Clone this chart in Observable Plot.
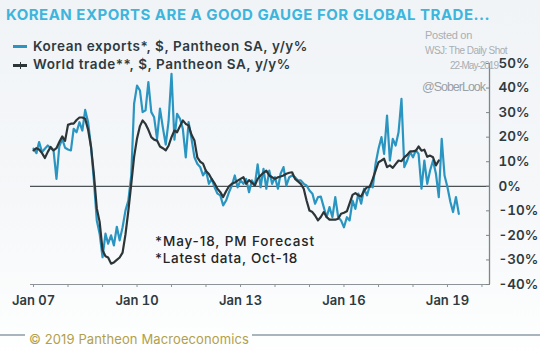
<!DOCTYPE html>
<html><head><meta charset="utf-8">
<script src="https://cdn.jsdelivr.net/npm/d3@7"></script>
<script src="https://cdn.jsdelivr.net/npm/@observablehq/plot@0.6"></script>
<style>
body{margin:0;background:#fff;}
#wrap{position:relative;width:540px;height:358px;overflow:hidden;background:linear-gradient(#f1f4f7 0%, #f5f7f9 55%, #fcfdfd 90%, #ffffff 100%);font-family:Inter, "Open Sans", sans-serif;}
.t{position:absolute;white-space:nowrap;line-height:1;}
.sw{position:absolute;}
#chart{position:absolute;left:0;top:0;}
</style></head><body>
<div id="wrap">
  <div id="chart"></div>
  <div class="t" id="title" data-w="484" style="left:6px;top:7px;font-size:15px;font-weight:700;color:#3db5dc;">KOREAN EXPORTS ARE A GOOD GAUGE FOR GLOBAL TRADE...</div>
  <div class="sw" style="left:13px;top:45px;width:14px;height:2.5px;background:#2b95c1"></div>
  <div class="t" id="leg1" data-w="275" style="left:33px;top:39.5px;font-size:13.5px;font-weight:600;color:#2e3a3f;">Korean exports*, $, Pantheon SA, y/y%</div>
  <div class="sw" style="left:13px;top:64px;width:14px;height:2.5px;background:#2c3538"></div>
  <div class="sw" style="left:19.5px;top:61.5px;width:1.5px;height:7px;background:#2c3538"></div>
  <div class="t" id="leg2" data-w="258" style="left:33px;top:58px;font-size:13.5px;font-weight:600;color:#2e3a3f;">World trade**, $, Pantheon SA, y/y%</div>
  <div class="t" data-w="47" style="left:425px;top:30px;font-size:11px;font-family:'Liberation Sans',Arial,sans-serif;color:#a9aeb2;">Posted on</div>
  <div class="t" data-w="82" style="left:425px;top:46px;font-size:10px;font-family:'Liberation Sans',Arial,sans-serif;color:#a9aeb2;">WSJ: The Daily Shot</div>
  <div class="t" data-w="48" style="left:450px;top:61px;font-size:10px;font-family:'Liberation Sans',Arial,sans-serif;color:#a9aeb2;">22-May-2019</div>
  <div class="t" data-w="63" style="left:422px;top:80.5px;font-size:12.5px;font-family:'Liberation Sans',Arial,sans-serif;color:#9aa0a4;">@SoberLook</div>
  <div class="t" data-w="160" style="left:155px;top:235px;font-size:13.5px;font-weight:500;color:#1e2629;">*May-18, PM Forecast</div>
  <div class="t" data-w="143" style="left:155px;top:251.5px;font-size:13.5px;font-weight:500;color:#1e2629;">*Latest data, Oct-18</div>
  <div class="sw" style="left:0px;top:334px;width:25px;height:2px;background:#a9b5bd"></div>
  <div class="sw" style="left:252px;top:334px;width:288px;height:2px;background:#a9b5bd"></div>
  <div class="t" data-w="220" style="left:29px;top:333px;font-size:13px;font-weight:400;color:#b1a04b;">© 2019 Pantheon Macroeconomics</div>
</div>
<script>
// Korean exports, monthly from Jan 2007 (y/y %)
const koreaValues = [
  15.3,13.5,18,13.9,15.3,16.6,15.5,14.6,3,16.2,19.3,15.7,
  15,14.6,23.4,22,26.1,22.7,31.1,26.1,15.9,2.4,-13.9,-19.3,
  -28.9,-19.3,-23.4,-20,-24.1,-16.5,-22,-16.7,-9.8,-5.8,4.4,33.6,
  41,39,30.2,30.9,42.4,30.2,28.1,19.3,31.6,24,17,26.5,
  45.8,19,29.5,27.5,23.4,11.8,26.1,19.3,11.8,9.2,7.8,4.4,
  6.4,1,3,-0.4,-3,-3.7,-7.8,-5.8,-2.4,0.3,4.4,-0.4,
  2.4,1,3,-2.4,2.4,0.3,8.9,-0.4,7.1,-1,6.4,1,
  3.7,-1,5.1,7.8,0.3,3.7,4.4,3.7,2.4,2.4,1,0.3,
  -1.7,-3,-7.1,-4.4,-4.2,-8.5,-12.6,-8.5,-12.6,-4.4,-12.6,-13.9,
  -16.7,-12.6,-13.9,-5.8,-9.2,-3,-7.1,-1,-3.7,0.3,-0.4,9.2,
  15.3,20,13.2,28.8,10.5,19.3,16.6,22,35.6,7.8,10.5,13.9,
  11.8,14.6,13.2,-1,10.5,1,6.4,10.5,5.1,-4.4,19.3,4.4,
  -0.4,-6.4,-10.5,-4.4,-11.2
];
// World trade, monthly from Jan 2007 to Oct 2018 (y/y %)
const worldValues = [
  14.6,15.5,15,13.5,11.5,14,16,14.6,15.5,18,20.3,18.5,
  25,25.5,25.5,27,28,28,27.5,23,16,5,-9,-14.5,
  -26,-28.5,-29,-31.5,-31,-30,-29,-27,-19.5,-10,1,12,
  19.5,24.5,26.8,25.4,23,20,19,18.6,16.2,15.5,14.6,16.5,
  20,22.7,22,24.5,26.8,25.4,24.8,21,18.6,11.8,10,9.2,
  6.2,5,3,1.2,-1,-2.4,-4.4,-2,0,1,1.5,2.3,
  3,3.7,1,2.5,1.5,0.3,3,4.4,5.5,6.4,4.4,3.7,
  3,3.7,4,4.4,5.1,5.5,5.7,3,2,1,-1,-5.8,
  -9.9,-10.5,-11.9,-13.9,-12.5,-10.5,-12.5,-13.6,-13.6,-13.6,-13.2,-11.2,
  -10.8,-10.2,-7,-3.5,-2.8,-3.7,-4.2,-1.7,-0.4,-0.2,3,6.4,
  9.8,10.5,11.2,7.8,8.5,7.5,9,10.5,10.2,11.8,12.8,14.2,
  14.2,14.5,16.2,14.5,14.9,12,12.5,11.8,8.5,10.5
];
const startYear = 2007;
const yTicks = [-40,-30,-20,-10,0,10,20,30,40,50];
const xTickYears = [2007,2008,2009,2010,2011,2012,2013,2014,2015,2016,2017,2018,2019,2020];
const xTickLabels = {2007:"Jan 07",2010:"Jan 10",2013:"Jan 13",2016:"Jan 16",2019:"Jan 19"};
const xDomain = [new Date(Date.UTC(2006,10,30)), new Date(Date.UTC(2020,2,21))];
const yDomain = [-40, 50];

const toRows = vals => vals.map((v,i) => ({date: new Date(Date.UTC(startYear, i, 1)), value: v}));
const korea = toRows(koreaValues);
const world = toRows(worldValues);
const xTicks = xTickYears.map(y => new Date(Date.UTC(y,0,1)));

const chart = Plot.plot({
  width: 540, height: 358,
  marginLeft: 30, marginRight: 51, marginTop: 63, marginBottom: 74,
  style: {background: "transparent", overflow: "visible", fontFamily: "Inter, sans-serif"},
  x: {type: "utc", domain: xDomain, label: null},
  y: {domain: yDomain, label: null},
  marks: [
    Plot.ruleY([0], {stroke: "#4d5255", strokeWidth: 1.3}),
    Plot.ruleY([yDomain[0]], {stroke: "#8d9396", strokeWidth: 1}),
    Plot.ruleX([xDomain[1]], {stroke: "#7f8589", strokeWidth: 1.3}),
    Plot.lineY(korea, {x: "date", y: "value", stroke: "#2b95c1", strokeWidth: 2.2}),
    Plot.lineY(world, {x: "date", y: "value", stroke: "#2c3538", strokeWidth: 2.2}),
    Plot.axisX({ticks: xTicks, tickSize: 3, tickPadding: 8, label: null, stroke: "#8d9396",
      tickFormat: d => xTickLabels[d.getUTCFullYear()] || "",
      fontSize: 13, fontWeight: 600, fill: "#2e3a3f"}),
    Plot.axisY({anchor: "right", ticks: yTicks, tickSize: 4, dx: -4, label: null, stroke: "#7f8589",
      tickFormat: () => ""}),
    Plot.axisY({anchor: "right", ticks: yTicks, tickSize: 0, tickPadding: 9, label: null,
      tickFormat: d => d + "%", textAnchor: "start",
      fontSize: 13.5, fontWeight: 600, fill: "#2e3a3f"})
  ]
});
document.getElementById("chart").appendChild(chart);

// fit text widths
document.querySelectorAll(".t[data-w]").forEach(el => {
  const target = +el.dataset.w;
  const w = el.getBoundingClientRect().width;
  const n = el.textContent.length;
  el.style.letterSpacing = ((target - w) / n) + "px";
});
</script>
</body></html>
